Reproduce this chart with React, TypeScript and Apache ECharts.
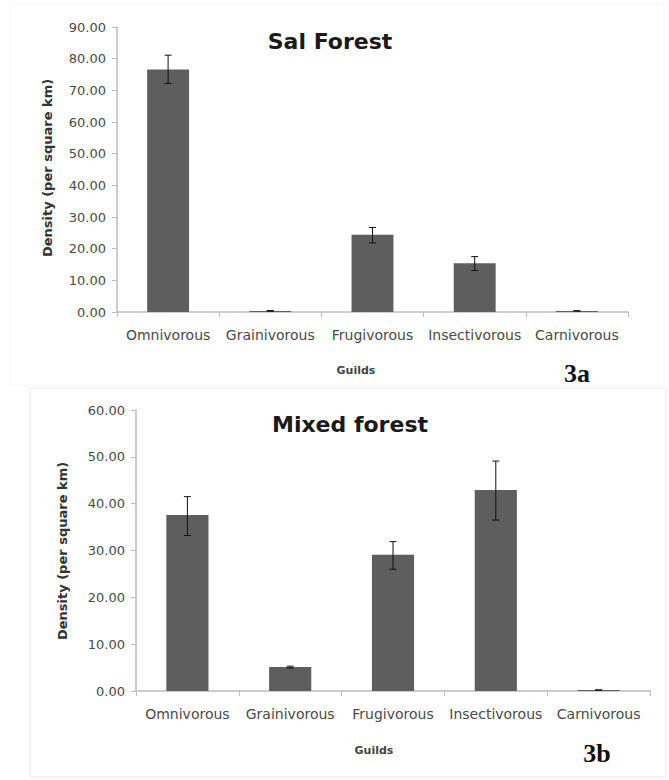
import React, { useEffect, useRef } from "react";
import * as echarts from "echarts";

const guilds = ["Omnivorous", "Grainivorous", "Frugivorous", "Insectivorous", "Carnivorous"];

const salDensity = [76.6, 0.35, 24.4, 15.4, 0.35];
const salLow = [72.2, 0.25, 21.8, 13.1, 0.3];
const salHigh = [81.1, 0.45, 26.7, 17.5, 0.4];

const mixedDensity = [37.6, 5.1, 29.1, 42.9, 0.2];
const mixedLow = [33.2, 4.9, 26.0, 36.5, 0.15];
const mixedHigh = [41.5, 5.3, 31.9, 49.1, 0.25];

const salTicks = { min: 0, max: 90, interval: 10 };
const mixedTicks = { min: 0, max: 60, interval: 10 };

const FONT = "DejaVu Sans";
const BAR = "#5e5e5e";
const AXIS = "#bdbdbd";
const TXT = "#4a4a4a";

function errorSeries(low: number[], high: number[], idx: number) {
  return {
    type: "custom",
    xAxisIndex: idx,
    yAxisIndex: idx,
    z: 5,
    silent: true,
    data: low.map((l, i) => [i, l, high[i]]),
    encode: { x: 0, y: [1, 2] },
    renderItem: (params: any, api: any) => {
      const x = api.value(0);
      const lo = api.coord([x, api.value(1)]);
      const hi = api.coord([x, api.value(2)]);
      const cap = 3.5;
      const st = { stroke: "#111", lineWidth: 1 };
      return {
        type: "group",
        children: [
          { type: "line", shape: { x1: lo[0], y1: lo[1], x2: hi[0], y2: hi[1] }, style: st },
          { type: "line", shape: { x1: hi[0] - cap, y1: hi[1], x2: hi[0] + cap, y2: hi[1] }, style: st },
          { type: "line", shape: { x1: lo[0] - cap, y1: lo[1], x2: lo[0] + cap, y2: lo[1] }, style: st },
        ],
      };
    },
  };
}

function xAxis(idx: number) {
  return {
    type: "category",
    gridIndex: idx,
    data: guilds,
    boundaryGap: true,
    axisLine: { show: true, lineStyle: { color: AXIS, width: 1.5 } },
    axisTick: { show: true, alignWithLabel: false, length: 5, lineStyle: { color: AXIS } },
    axisLabel: { color: TXT, fontFamily: FONT, fontSize: 14, margin: 16, interval: 0 },
    splitLine: { show: false },
  };
}

function yAxis(idx: number, t: { min: number; max: number; interval: number }) {
  return {
    type: "value",
    gridIndex: idx,
    min: t.min,
    max: t.max,
    interval: t.interval,
    axisLine: { show: true, lineStyle: { color: AXIS, width: 1.5 } },
    axisTick: { show: true, length: 5, lineStyle: { color: AXIS } },
    axisLabel: {
      color: TXT,
      fontFamily: FONT,
      fontSize: 13,
      margin: 11,
      formatter: (v: number) => v.toFixed(2),
    },
    splitLine: { show: false },
  };
}

export default function App() {
  const ref = useRef<HTMLDivElement>(null);
  useEffect(() => {
    if (!ref.current) return;
    const chart = echarts.init(ref.current, null, { renderer: "svg" });
    chart.setOption({
      animation: false,
      backgroundColor: "#ffffff",
      grid: [
        { left: 117, right: 41, top: 27, height: 285 },
        { left: 136, right: 19, top: 410, height: 281 },
      ],
      xAxis: [xAxis(0), xAxis(1)],
      yAxis: [yAxis(0, salTicks), yAxis(1, mixedTicks)],
      series: [
        {
          type: "bar",
          xAxisIndex: 0,
          yAxisIndex: 0,
          data: salDensity,
          barWidth: "41%",
          itemStyle: { color: BAR },
        },
        errorSeries(salLow, salHigh, 0),
        {
          type: "bar",
          xAxisIndex: 1,
          yAxisIndex: 1,
          data: mixedDensity,
          barWidth: "41%",
          itemStyle: { color: BAR },
        },
        errorSeries(mixedLow, mixedHigh, 1),
      ],
      graphic: [
        {
          type: "rect",
          z: -10,
          shape: { x: 10, y: 4, width: 654, height: 381 },
          style: { fill: "none", stroke: "#f4f4f4", lineWidth: 1 },
        },
        {
          type: "rect",
          z: -10,
          shape: { x: 30, y: 388, width: 636, height: 389 },
          style: { fill: "none", stroke: "#e8e8e8", lineWidth: 1 },
        },
        {
          type: "text",
          x: 330,
          y: 41,
          style: { text: "Sal Forest", fontFamily: FONT, fontSize: 22, fontWeight: "bold", fill: "#1a1a1a", align: "center", verticalAlign: "middle" },
        },
        {
          type: "text",
          x: 350,
          y: 424,
          style: { text: "Mixed forest", fontFamily: FONT, fontSize: 22, fontWeight: "bold", fill: "#1a1a1a", align: "center", verticalAlign: "middle" },
        },
        {
          type: "text",
          x: 47,
          y: 168,
          rotation: Math.PI / 2,
          style: { text: "Density (per square km)", fontFamily: FONT, fontSize: 13, fontWeight: "bold", fill: "#333", align: "center", verticalAlign: "middle" },
        },
        {
          type: "text",
          x: 62,
          y: 551,
          rotation: Math.PI / 2,
          style: { text: "Density (per square km)", fontFamily: FONT, fontSize: 13, fontWeight: "bold", fill: "#333", align: "center", verticalAlign: "middle" },
        },
        {
          type: "text",
          x: 356,
          y: 370,
          style: { text: "Guilds", fontFamily: FONT, fontSize: 11, fontWeight: "bold", fill: "#444", align: "center", verticalAlign: "middle" },
        },
        {
          type: "text",
          x: 374,
          y: 750,
          style: { text: "Guilds", fontFamily: FONT, fontSize: 11, fontWeight: "bold", fill: "#444", align: "center", verticalAlign: "middle" },
        },
        {
          type: "text",
          x: 577,
          y: 373,
          style: { text: "3a", fontFamily: "Liberation Serif", fontSize: 26, fontWeight: "bold", fill: "#111", align: "center", verticalAlign: "middle" },
        },
        {
          type: "text",
          x: 597,
          y: 753,
          style: { text: "3b", fontFamily: "Liberation Serif", fontSize: 26, fontWeight: "bold", fill: "#111", align: "center", verticalAlign: "middle" },
        },
      ],
    });
    return () => chart.dispose();
  }, []);
  return (
    <div
      ref={ref}
      style={{ position: "fixed", left: 0, top: 0, width: 669, height: 780, background: "#fff" }}
    />
  );
}
